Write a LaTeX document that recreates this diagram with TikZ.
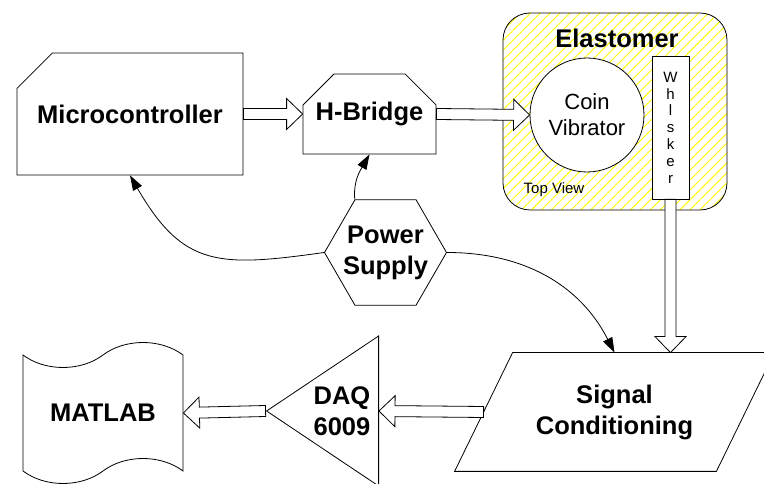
\documentclass[tikz,border=0pt]{standalone}
\usepackage{fontspec}
\setmainfont{Liberation Sans}
\usetikzlibrary{calc, shapes.geometric, shapes.misc, shapes.symbols, arrows.meta, patterns.meta}

\tikzset{
    box/.style = {draw, fill = white, align = center, inner sep = 0pt,
        font = \bfseries\fontsize{25.5}{31}\selectfont},
    fat/.style = {draw, fill = white, line join = miter, to path = {
        ($(\tikztotarget)!16pt!(\tikztostart)$) coordinate (fat-b)
        ($(\tikztostart)!5.5pt!90:(\tikztotarget)$)
        -- ($(fat-b)!5.5pt!90:(\tikztotarget)$)
        -- ($(fat-b)!15.5pt!90:(\tikztotarget)$)
        -- (\tikztotarget)
        -- ($(fat-b)!15.5pt!-90:(\tikztotarget)$)
        -- ($(fat-b)!5.5pt!-90:(\tikztotarget)$)
        -- ($(\tikztostart)!5.5pt!-90:(\tikztotarget)$)
        -- cycle}},
    feed/.style = {-{Triangle[length = 15pt, width = 10pt]}}
}

\begin{document}
\begin{tikzpicture}[x = 1pt, y = 1pt, line width = 0.8pt]
    \useasboundingbox (0, 0) rectangle (764, 484);

    \node[box, chamfered rectangle, chamfered rectangle corners = north west,
        chamfered rectangle xsep = 26pt, chamfered rectangle ysep = 26pt,
        minimum width = 226pt, minimum height = 122pt] (mc) at (130, 370) {Microcontroller};
    \node[box, chamfered rectangle, chamfered rectangle corners = {north west, north east},
        chamfered rectangle xsep = 20pt, chamfered rectangle ysep = 19pt,
        minimum width = 133pt, minimum height = 80pt] (hb) at (369.5, 370) {H-Bridge};

    \node[draw, rounded corners = 27pt, minimum width = 224pt, minimum height = 197pt,
        pattern = {Lines[angle = 45, distance = 7pt, line width = 0.9pt]},
        pattern color = yellow] (el) at (615, 372.5) {};
    \node[font = \bfseries\fontsize{25.5}{31}\selectfont] (elt) at (617, 446) {Elastomer};
    \node[draw, circle, fill = white, minimum size = 114pt, inner sep = 0pt, align = center,
        font = \fontsize{22}{26}\selectfont] (coin) at (587, 369) {Coin\\Vibrator};
    \node[draw, fill = white, minimum width = 37pt, minimum height = 143pt, inner sep = 0pt,
        align = center, font = \fontsize{15}{16.8}\selectfont] (wh) at (670.5, 356.5)
        {W\\h\\l\\s\\k\\e\\r};
    \node[font = \fontsize{15}{18}\selectfont] (tv) at (554, 294) {Top View};

    \node[draw, regular polygon, regular polygon sides = 6, minimum size = 122pt,
        inner sep = 0pt] (ps) at (385.5, 231.5) {};
    \node[box, draw = none, fill = none] (pst) at (ps) {Power\\Supply};

    \node[box, draw = none, fill = none, minimum width = 261pt, minimum height = 118pt] (sc)
        at (614.5, 72) {Signal\\Conditioning};
    \draw ([xshift = -29pt]sc.south west) -- ([xshift = 29pt]sc.north west)
        -- ([xshift = 29pt]sc.north east) -- ([xshift = -29pt]sc.south east) -- cycle;

    \node[draw, isosceles triangle, shape border rotate = 180, isosceles triangle stretches,
        minimum width = 150pt, minimum height = 112pt, inner sep = 0pt, anchor = lower side]
        (daq) at (379, 73) {};
    \node[align = center, font = \bfseries\fontsize{25.5}{31}\selectfont] (daqt)
        at (342, 73) {DAQ\\6009};
    \node[box, tape, tape bend height = 25pt, minimum width = 160pt, minimum height = 141pt]
        (ml) at (103, 71) {MATLAB};

    \draw[fat] (mc.east) to (hb.west);
    \draw[fat] (hb.east) to (coin.west);
    \draw[fat] (wh.south) to (wh.south |- sc.north);
    \draw[fat] (sc.west) to (daq.lower side);
    \draw[fat] (daq.apex) to (ml.east);

    \draw[feed] (ps.west) to[out = 188, in = -60, looseness = 1.3] (mc.south);
    \draw[feed] (ps.120) to[out = 95, in = -120] (hb.south);
    \draw[feed] (ps.east) to[out = 0, in = 117] (sc.north);
\end{tikzpicture}
\end{document}
